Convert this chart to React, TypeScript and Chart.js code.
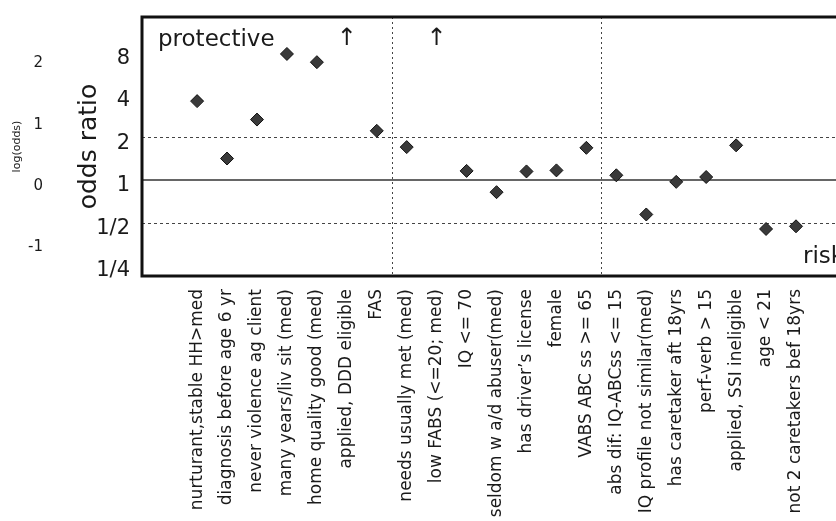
import React, { useEffect, useRef } from 'react';
import { Chart, registerables } from 'chart.js';

Chart.register(...registerables);

const CATEGORIES: string[] = [
  'nurturant,stable HH>med',
  'diagnosis before age 6 yr',
  'never violence ag client',
  'many years/liv sit (med)',
  'home quality good (med)',
  'applied, DDD eligible',
  'FAS',
  'needs usually met (med)',
  'low FABS (<=20; med)',
  'IQ <= 70',
  'seldom w a/d abuser(med)',
  'has driver\u2019s license',
  'female',
  'VABS ABC ss >= 65',
  'abs dif: IQ-ABCss <= 15',
  'IQ profile not similar(med)',
  'has caretaker aft 18yrs',
  'perf-verb > 15',
  'applied, SSI ineligible',
  'age < 21',
  'not 2 caretakers bef 18yrs',
];

// null = off the top of the scale (drawn as an up arrow)
const ODDS_RATIOS: (number | null)[] = [
  3.62, 1.42, 2.68, 7.81, 6.83, null, 2.23, 1.71, null, 1.16, 0.82,
  1.15, 1.17, 1.69, 1.08, 0.57, 0.97, 1.05, 1.76, 0.45, 0.47,
];

const ODDS_TICKS = [0.25, 0.5, 1, 2, 4, 8];
const ODDS_TICK_LABELS = ['1/4', '1/2', '1', '2', '4', '8'];
const LOG_ODDS_TICKS = [-1, 0, 1, 2];
const DASHED_LEVELS = [0.5, 2];
const SOLID_LEVEL = 1;
const GROUP_DIVIDERS = [6.5, 13.5];
const ODDS_MIN = 0.209;
const ODDS_MAX = 14.27;
const X_MIN = -1.84;
const X_MAX = 21.87;

const FONT = "'DejaVu Sans', sans-serif";
const INK = '#1a1a1a';

const overlayPlugin = {
  id: 'overlay',
  beforeDatasetsDraw(chart: any) {
    const { ctx, chartArea } = chart;
    const xs = chart.scales.x;
    const ys = chart.scales.y;
    ctx.save();
    ctx.strokeStyle = '#444';
    ctx.lineWidth = 1;
    ctx.setLineDash([3, 3]);
    DASHED_LEVELS.forEach((v) => {
      const y = Math.round(ys.getPixelForValue(v)) + 0.5;
      ctx.beginPath();
      ctx.moveTo(chartArea.left, y);
      ctx.lineTo(chartArea.right, y);
      ctx.stroke();
    });
    ctx.setLineDash([2, 3]);
    GROUP_DIVIDERS.forEach((v) => {
      const x = Math.round(xs.getPixelForValue(v)) + 0.5;
      ctx.beginPath();
      ctx.moveTo(x, chartArea.top);
      ctx.lineTo(x, chartArea.bottom);
      ctx.stroke();
    });
    ctx.setLineDash([]);
    ctx.strokeStyle = '#333';
    ctx.lineWidth = 1.5;
    const y1 = ys.getPixelForValue(SOLID_LEVEL);
    ctx.beginPath();
    ctx.moveTo(chartArea.left, y1);
    ctx.lineTo(chartArea.right, y1);
    ctx.stroke();
    ctx.restore();
  },
  afterDatasetsDraw(chart: any) {
    const { ctx, chartArea } = chart;
    const xs = chart.scales.x;
    ctx.save();
    ctx.strokeStyle = '#111';
    ctx.lineWidth = 3;
    ctx.strokeRect(chartArea.left, chartArea.top, chartArea.right - chartArea.left, chartArea.bottom - chartArea.top);
    ctx.fillStyle = INK;
    ctx.font = `23px ${FONT}`;
    ctx.textBaseline = 'alphabetic';
    ctx.textAlign = 'left';
    ctx.fillText('protective', chartArea.left + 16, chartArea.top + 29);
    ctx.fillText('risk', 803, chartArea.bottom - 13);
    ctx.font = `24px ${FONT}`;
    ctx.textAlign = 'center';
    ctx.textBaseline = 'middle';
    ODDS_RATIOS.forEach((v, i) => {
      if (v === null) {
        ctx.fillText('\u2191', xs.getPixelForValue(i), chartArea.top + 22);
      }
    });
    ctx.restore();
  },
};

export default function App() {
  const canvasRef = useRef<HTMLCanvasElement | null>(null);

  useEffect(() => {
    document.body.style.margin = '0';
    const canvas = canvasRef.current;
    if (!canvas) return;
    const points = ODDS_RATIOS.map((v, i) => ({ x: i, y: v })).filter((p) => p.y !== null);

    const chart = new Chart(canvas, {
      type: 'scatter',
      data: {
        datasets: [
          {
            data: points as any,
            pointStyle: 'rectRot',
            pointRadius: 6.5,
            pointHoverRadius: 6.5,
            backgroundColor: '#3a3a3a',
            borderColor: '#111',
            borderWidth: 1,
          },
        ],
      },
      options: {
        animation: false,
        responsive: false,
        devicePixelRatio: 1,
        layout: { padding: { top: 17, right: 10, left: 0, bottom: 0 } },
        plugins: { legend: { display: false }, tooltip: { enabled: false } },
        scales: {
          x: {
            type: 'linear',
            min: X_MIN,
            max: X_MAX,
            grid: { display: false, drawTicks: false },
            border: { display: false },
            afterBuildTicks: (scale: any) => {
              scale.ticks = CATEGORIES.map((_, i) => ({ value: i }));
            },
            afterFit: (scale: any) => {
              scale.height = 245;
              scale.paddingLeft = 0;
              scale.paddingRight = 0;
            },
            ticks: {
              autoSkip: false,
              minRotation: 90,
              maxRotation: 90,
              padding: 13,
              color: INK,
              font: { family: FONT, size: 17 },
              callback: (value: any) => CATEGORIES[value as number] ?? '',
            },
          },
          y: {
            type: 'logarithmic',
            position: 'left',
            weight: 0,
            min: ODDS_MIN,
            max: ODDS_MAX,
            grid: { display: false, drawTicks: false },
            border: { display: false },
            afterBuildTicks: (scale: any) => {
              scale.ticks = ODDS_TICKS.map((v) => ({ value: v }));
            },
            afterFit: (scale: any) => {
              scale.width = 87;
              scale.paddingTop = 0;
              scale.paddingBottom = 0;
            },
            title: {
              display: true,
              text: 'odds ratio',
              color: INK,
              font: { family: FONT, size: 25 },
              padding: { top: 19, bottom: 0 },
            },
            ticks: {
              padding: 12,
              labelOffset: 6,
              color: INK,
              font: { family: FONT, size: 21 },
              callback: (value: any) => {
                const i = ODDS_TICKS.indexOf(value as number);
                return i >= 0 ? ODDS_TICK_LABELS[i] : '';
              },
            },
          },
          ln: {
            type: 'linear',
            position: 'left',
            weight: 10,
            min: Math.log(ODDS_MIN),
            max: Math.log(ODDS_MAX),
            grid: { display: false, drawTicks: false },
            border: { display: false },
            afterBuildTicks: (scale: any) => {
              scale.ticks = LOG_ODDS_TICKS.map((v) => ({ value: v }));
            },
            afterFit: (scale: any) => {
              scale.width = 55;
              scale.paddingTop = 0;
              scale.paddingBottom = 0;
            },
            title: {
              display: true,
              text: 'log(odds)',
              color: INK,
              font: { family: FONT, size: 11 },
              padding: { top: 11, bottom: 0 },
            },
            ticks: {
              padding: 12,
              labelOffset: 6,
              color: INK,
              font: { family: FONT, size: 15 },
              callback: (value: any) => String(value),
            },
          },
        },
      } as any,
      plugins: [overlayPlugin],
    });
    return () => chart.destroy();
  }, []);

  return (
    <div style={{ width: 836, height: 521, overflow: 'hidden', position: 'relative', background: '#fff' }}>
      <canvas ref={canvasRef} width={862} height={521} style={{ width: 862, height: 521, display: 'block' }} />
    </div>
  );
}
